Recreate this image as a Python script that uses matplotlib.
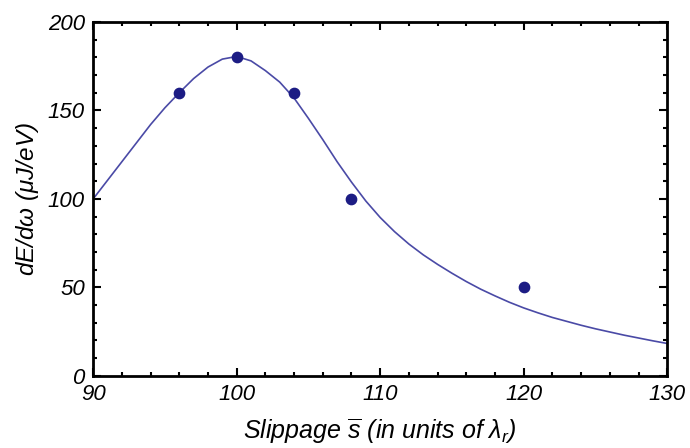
import matplotlib
matplotlib.use("Agg")
import matplotlib.pyplot as plt
from matplotlib.ticker import MultipleLocator

plt.rcParams["font.family"] = "Liberation Sans"
plt.rcParams["font.style"] = "italic"
plt.rcParams["mathtext.fontset"] = "custom"
plt.rcParams["mathtext.it"] = "Liberation Sans:italic"
plt.rcParams["mathtext.rm"] = "Liberation Sans:italic"

# measured points
slip_pts = [96, 100, 104, 108, 120]
energy_pts = [160, 180, 160, 100, 50]

# fitted curve
slip_fit = [90, 91, 92, 93, 94, 95, 96, 97, 98, 99, 100, 101, 102, 103, 104,
            105, 106, 107, 108, 109, 110, 111, 112, 113, 114, 115, 116, 117,
            118, 119, 120, 121, 122, 123, 124, 125, 126, 127, 128, 129, 130]
energy_fit = [100, 110.5, 121, 131.5, 142, 151.5, 160, 168, 174.5, 179, 180.5,
              178, 172.5, 166, 157, 145.5, 133.5, 121, 109.5, 98.8, 89.5, 81.5,
              74.5, 68.4, 63, 58, 53.3, 49, 45.2, 41.6, 38.4, 35.6, 33, 30.8,
              28.6, 26.6, 24.8, 23, 21.4, 19.8, 18.3]

fig = plt.figure(figsize=(6.9, 4.48), dpi=100)
ax = fig.add_axes([0.135, 0.161, 0.832, 0.79])

ax.plot(slip_fit, energy_fit, color="#4a4aa6", lw=1.2)
ax.scatter(slip_pts, energy_pts, s=55, color="#1c1c84", zorder=3)

ax.set(xlim=[90, 130], ylim=[0, 200])
ax.xaxis.set_major_locator(MultipleLocator(10))
ax.xaxis.set_minor_locator(MultipleLocator(2))
ax.yaxis.set_major_locator(MultipleLocator(50))
ax.yaxis.set_minor_locator(MultipleLocator(10))
ax.tick_params(which="both", direction="in", top=True, right=True, width=1.5)
ax.tick_params(which="major", length=6, labelsize=16, pad=6)
ax.tick_params(which="minor", length=3)
for s in ax.spines.values():
    s.set_linewidth(2)

ax.set_xlabel(r"Slippage $\overline{s}$ (in units of $\lambda_r$)", fontsize=18, labelpad=8)
ax.set_ylabel(r"$dE/d\omega$ ($\mu J/eV$)", fontsize=17.5, labelpad=5)

fig.savefig("out.png", dpi=100)
